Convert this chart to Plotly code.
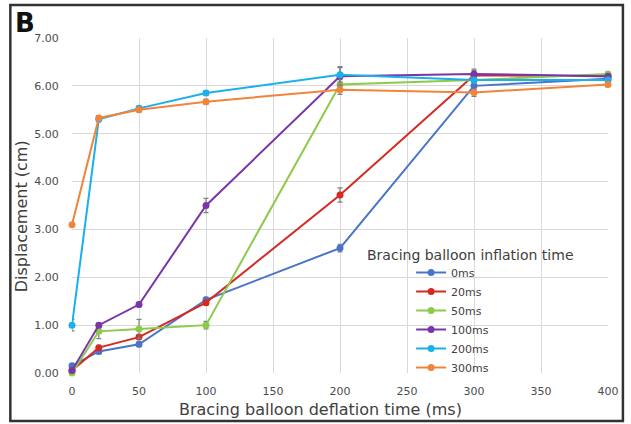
import plotly.graph_objects as go

# Bracing balloon deflation time (ms)
deflation_ms = [0, 20, 50, 100, 200, 300, 400]

# Displacement (cm) for each bracing balloon inflation time
series_names = ["0ms", "20ms", "50ms", "100ms", "200ms", "300ms"]
disp_0ms = [0.15, 0.45, 0.60, 1.53, 2.61, 6.00, 6.15]
disp_20ms = [0.05, 0.53, 0.75, 1.47, 3.72, 6.22, 6.20]
disp_50ms = [0.00, 0.87, 0.92, 1.00, 6.03, 6.12, 6.25]
disp_100ms = [0.05, 1.00, 1.43, 3.50, 6.20, 6.25, 6.20]
disp_200ms = [1.00, 5.30, 5.53, 5.85, 6.23, 6.12, 6.12]
disp_300ms = [3.10, 5.33, 5.50, 5.67, 5.92, 5.86, 6.03]

# Standard error for each point
err_0ms = [0.00, 0.05, 0.05, 0.05, 0.08, 0.08, 0.05]
err_20ms = [0.00, 0.05, 0.05, 0.05, 0.15, 0.10, 0.05]
err_50ms = [0.00, 0.15, 0.20, 0.08, 0.10, 0.05, 0.05]
err_100ms = [0.00, 0.05, 0.05, 0.15, 0.20, 0.10, 0.05]
err_200ms = [0.12, 0.05, 0.05, 0.05, 0.15, 0.05, 0.05]
err_300ms = [0.00, 0.05, 0.05, 0.05, 0.10, 0.08, 0.05]

all_values = [disp_0ms, disp_20ms, disp_50ms, disp_100ms, disp_200ms, disp_300ms]
all_errors = [err_0ms, err_20ms, err_50ms, err_100ms, err_200ms, err_300ms]
colors = ["#4A74C8", "#D42A22", "#8CCB4A", "#7A36A8", "#1AB0EC", "#F2833A"]

fig = go.Figure()
for name, vals, errs, col in zip(series_names, all_values, all_errors, colors):
    fig.add_trace(go.Scatter(
        x=deflation_ms, y=vals, name=name, mode="lines+markers",
        line=dict(color=col, width=2),
        marker=dict(color=col, size=7),
        error_y=dict(type="data", array=errs, visible=True,
                     color="#808080", thickness=1.2, width=2.5),
        cliponaxis=False,
    ))

# plot area in pixels: left 72, right 611, top 38, bottom 373
W, H = 631, 424
L, R, T, B = 72, 20, 38, 51
pw, ph = W - L - R, H - T - B

def px(xp):
    return (xp - L) / pw

def py(yp):
    return (H - B - yp) / ph

fig.update_layout(
    width=W, height=H,
    margin=dict(l=L, r=R, t=T, b=B),
    paper_bgcolor="white", plot_bgcolor="white",
    font=dict(family="DejaVu Sans", color="#595959", size=11),
    xaxis=dict(
        range=[0, 400], tickvals=[0, 50, 100, 150, 200, 250, 300, 350, 400],
        showgrid=True, gridcolor="#D9D9D9", gridwidth=1, zeroline=False,
        showline=False, ticks="outside", ticklen=8, tickcolor="rgba(0,0,0,0)",
        tickfont=dict(size=11, color="#4D4D4D"),
    ),
    yaxis=dict(
        range=[0, 7], tickvals=[0, 1, 2, 3, 4, 5, 6, 7], tickformat=".2f",
        showgrid=True, gridcolor="#D9D9D9", gridwidth=1, zeroline=False,
        showline=False, ticks="outside", ticklen=10, tickcolor="rgba(0,0,0,0)",
        tickfont=dict(size=11, color="#4D4D4D"),
    ),
    legend=dict(
        x=px(413), y=py(258), xanchor="left", yanchor="top",
        bgcolor="rgba(0,0,0,0)", borderwidth=0,
        font=dict(size=11, color="#404040"), tracegroupgap=0,
    ),
    showlegend=True,
    annotations=[
        dict(text="Bracing balloon deflation time (ms)", x=px(322), y=py(409),
             xref="paper", yref="paper", xanchor="center", yanchor="middle",
             showarrow=False, font=dict(size=16, color="#404040")),
        dict(text="Displacement (cm)", x=px(22), y=py(216), textangle=-90,
             xref="paper", yref="paper", xanchor="center", yanchor="middle",
             showarrow=False, font=dict(size=16, color="#404040")),
        dict(text="Bracing balloon inflation time", x=px(473), y=py(255),
             xref="paper", yref="paper", xanchor="center", yanchor="middle",
             showarrow=False, font=dict(size=14, color="#404040")),
        dict(text="<b>B</b>", x=px(13), y=py(6), xref="paper", yref="paper",
             xanchor="left", yanchor="top", showarrow=False,
             font=dict(size=26, color="#111111", family="DejaVu Sans")),
    ],
    shapes=[
        dict(type="rect", xref="paper", yref="paper",
             x0=px(10), x1=px(626), y0=py(421), y1=py(5),
             line=dict(color="#333333", width=2.5), fillcolor="rgba(0,0,0,0)"),
    ],
)

fig.write_html("out.html")
